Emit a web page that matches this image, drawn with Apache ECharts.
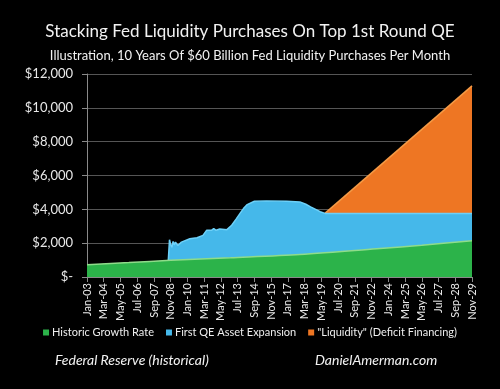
<!DOCTYPE html>
<html>
<head>
<meta charset="utf-8">
<script src="https://cdn.jsdelivr.net/npm/echarts@6/dist/echarts.min.js"></script>
<style>
html,body{margin:0;padding:0;background:#000;}
#chart{width:500px;height:389px;}
</style>
</head>
<body>
<div id="chart"></div>
<script>
// X tick labels (every 14 months from Jan-03, index = months since Jan-03)
var xTickLabels = ['Jan-03','Mar-04','May-05','Jul-06','Sep-07','Nov-08','Jan-10','Mar-11','May-12','Jul-13','Sep-14','Nov-15','Jan-17','Mar-18','May-19','Jul-20','Sep-21','Nov-22','Jan-24','Mar-25','May-26','Jul-27','Sep-28','Nov-29'];
var yTickLabels = ['$-','$2,000','$4,000','$6,000','$8,000','$10,000','$12,000'];
var seriesNames = ['Historic Growth Rate','First QE Asset Expansion','"Liquidity" (Deficit Financing)'];

// [month index, level (top edge of each band)]
var historicGrowth = [[0,720],[35,850],[70,990],[120,1140],[178,1330],[245,1680],[280,1880],[322,2140]];
var firstQE = [[68,985],[69,2200],[70,1900],[71,1760],[72,2100],[73,1900],[74,2060],[76,1860],[79,2060],[86,2260],[92,2320],[97,2460],[100,2760],[104,2760],[106,2860],[108,2760],[111,2840],[117,2800],[121,3060],[125,3450],[128,3760],[131,4060],[134,4280],[140,4480],[150,4500],[167,4480],[178,4440],[183,4300],[187,4150],[195,3860],[199,3760],[322,3760]];
var liquidity = [[199,3760],[322,11300]];

var chart = echarts.init(document.getElementById('chart'), null, {renderer:'canvas'});
var font = 'Lato';
chart.setOption({
  backgroundColor:'#000',
  animation:false,
  title:[{
    text:'Stacking Fed Liquidity Purchases On Top 1st Round QE',
    left:'center', top:18,
    textStyle:{color:'#f2f2f2', fontSize:17, fontWeight:'normal', fontFamily:font}
  },{
    text:'Illustration, 10 Years Of $60 Billion Fed Liquidity Purchases Per Month',
    left:'center', top:44,
    textStyle:{color:'#f2f2f2', fontSize:13, fontWeight:'normal', fontFamily:font}
  }],
  grid:{left:87, right:28, top:74, bottom:112, containLabel:false},
  legend:{
    top:327, left:'center', padding:0,
    itemWidth:6, itemHeight:6, itemGap:12,
    icon:'rect',
    textStyle:{color:'#eeeeee', fontSize:11, fontFamily:font, padding:[0,0,0,-2]},
    data:seriesNames
  },
  graphic:[
    {type:'text', left:55, top:353, style:{text:'Federal Reserve (historical)', fill:'#f2f2f2', font:'italic 14px '+font}},
    {type:'text', left:315, top:353, style:{text:'DanielAmerman.com', fill:'#f2f2f2', font:'italic 14px '+font}}
  ],
  xAxis:{
    type:'value', min:0, max:322, interval:14,
    axisLine:{lineStyle:{color:'#8a8a8a', width:1}},
    axisTick:{show:true, length:5, lineStyle:{color:'#8a8a8a'}},
    splitLine:{show:false},
    axisLabel:{
      rotate:90, color:'#e8e8e8', fontSize:11, fontFamily:font, margin:6,
      formatter:function(v){ return xTickLabels[Math.round(v/14)] || ''; }
    }
  },
  yAxis:{
    type:'value', min:0, max:12000, interval:2000,
    axisLine:{show:true, lineStyle:{color:'#8a8a8a', width:1}},
    axisTick:{show:true, length:5, lineStyle:{color:'#8a8a8a'}},
    splitLine:{lineStyle:{color:'#555555', width:1}},
    axisLabel:{
      color:'#e8e8e8', fontSize:13, fontFamily:font, margin:14,
      formatter:function(v){ return yTickLabels[Math.round(v/2000)]; }
    }
  },
  series:[
    {name:seriesNames[0], type:'line', data:historicGrowth, z:5, symbol:'none', smooth:0.3,
     itemStyle:{color:'#2cb34a'},
     lineStyle:{color:'#8fdc8a', width:1.5},
     areaStyle:{color:'#2cb34a', opacity:1}},
    {name:seriesNames[1], type:'line', data:firstQE, z:4, symbol:'none', smooth:false,
     itemStyle:{color:'#45b8ea'},
     lineStyle:{color:'#6cd0f8', width:1.5},
     areaStyle:{color:'#45b8ea', opacity:1}},
    {name:seriesNames[2], type:'line', data:liquidity, z:3, symbol:'none',
     itemStyle:{color:'#ee7623'},
     lineStyle:{color:'#f59a45', width:1.5},
     areaStyle:{color:'#ee7623', opacity:1}}
  ]
});
</script>
</body>
</html>
